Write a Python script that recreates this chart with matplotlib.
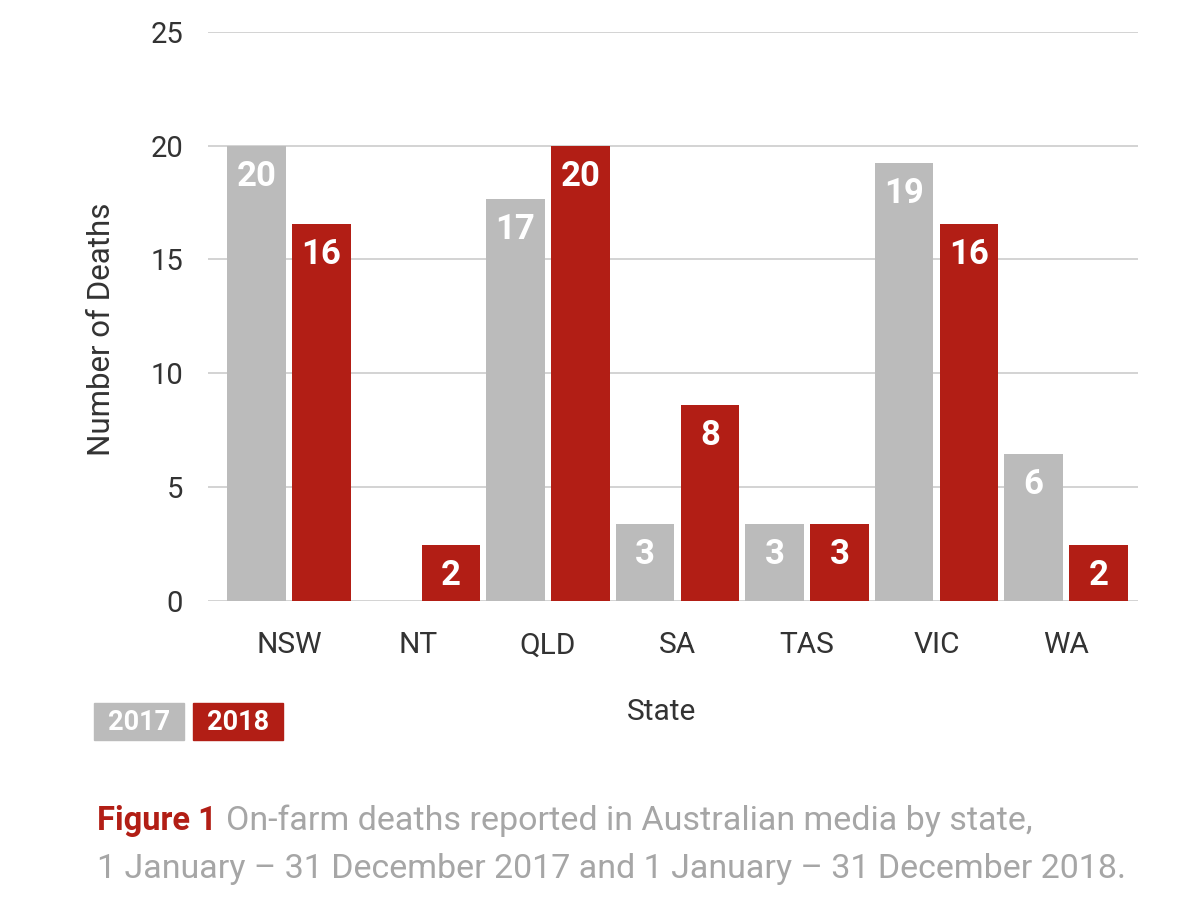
import matplotlib
matplotlib.use("Agg")
import matplotlib.pyplot as plt
from matplotlib.patches import Rectangle
import numpy as np

# ---- data ----
states = ['NSW', 'NT', 'QLD', 'SA', 'TAS', 'VIC', 'WA']
heights_2017 = [20.0, 0.0, 17.65, 3.37, 3.37, 19.25, 6.45]
heights_2018 = [16.55, 2.43, 20.0, 8.6, 3.37, 16.55, 2.43]
labels_2017 = ['20', '', '17', '3', '3', '19', '6']
labels_2018 = ['16', '2', '20', '8', '3', '16', '2']
yticks = [0, 5, 10, 15, 20, 25]

GREY = '#bbbbbb'
RED = '#b21e15'
TXT = '#333333'
CAP_GREY = '#a6a6a6'

plt.rcParams['font.family'] = ['Roboto', 'DejaVu Sans']

W, H = 1201, 914
fig = plt.figure(figsize=(W / 100, H / 100), dpi=100)
ax = fig.add_axes([208 / W, (H - 600.7) / H, (1138 - 208) / W, (600.7 - 32) / H])

x = np.arange(len(states))
off = 0.251
bw = 0.452
b17 = ax.bar(x - off, heights_2017, bw, color=GREY, zorder=3)
b18 = ax.bar(x + off, heights_2018, bw, color=RED, zorder=3)

for bars, labs in ((b17, labels_2017), (b18, labels_2018)):
    for rect, lab in zip(bars, labs):
        if not lab:
            continue
        ax.annotate(lab, (rect.get_x() + rect.get_width() / 2, rect.get_height()),
                    xytext=(0, -22), textcoords='offset points',
                    ha='center', va='center', color='white',
                    fontsize=25, fontweight='bold', zorder=4)

ax.set_xlim(-0.6255, 6.556)
ax.set_ylim(0, 25)
ax.set_yticks(yticks)
ax.set_yticklabels([str(t) for t in yticks])
ax.set_xticks(x)
ax.set_xticklabels(states)
ax.tick_params(axis='y', length=0, pad=18, labelsize=21, labelcolor=TXT)
ax.tick_params(axis='x', length=0, pad=22, labelsize=21.5, labelcolor=TXT)
ax.grid(axis='y', color='#d0d0d0', linewidth=1.3, zorder=0)
for s in ax.spines.values():
    s.set_visible(False)

fig.text(101 / W, 1 - 329 / H, 'Number of Deaths', rotation=90, ha='center', va='center',
         fontsize=22.5, color=TXT)
fig.text(662 / W, 1 - 712 / H, 'State', ha='center', va='center', fontsize=21.5, color=TXT)

# legend boxes
for (x0, x1, col, lab) in ((94, 184, GREY, '2017'), (193, 283, RED, '2018')):
    fig.patches.append(Rectangle((x0 / W, 1 - 740 / H), (x1 - x0) / W, 37 / H,
                                 transform=fig.transFigure, color=col, zorder=1))
    fig.text((x0 + x1) / 2 / W, 1 - 722 / H, lab, ha='center', va='center',
             color='white', fontsize=19.5, fontweight='bold', zorder=2)

# caption
t1 = fig.text(97 / W, 1 - 830 / H, 'Figure 1', ha='left', va='baseline',
              fontsize=23.5, fontweight='bold', color=RED)
fig.canvas.draw()
bb = t1.get_window_extent()
cap_font = ['Roboto', 'DejaVu Sans']
fig.text((bb.x1 + 9) / W, 1 - 830 / H, 'On-farm deaths reported in Australian media by state,',
         ha='left', va='baseline', fontsize=24.5, color=CAP_GREY, family=cap_font,
         fontweight='normal')
fig.text(97 / W, 1 - 878 / H, '1 January \u2013 31 December 2017 and 1 January \u2013 31 December 2018.',
         ha='left', va='baseline', fontsize=24.5, color=CAP_GREY, family=cap_font,
         fontweight='normal')

fig.savefig('out.png', dpi=100)
